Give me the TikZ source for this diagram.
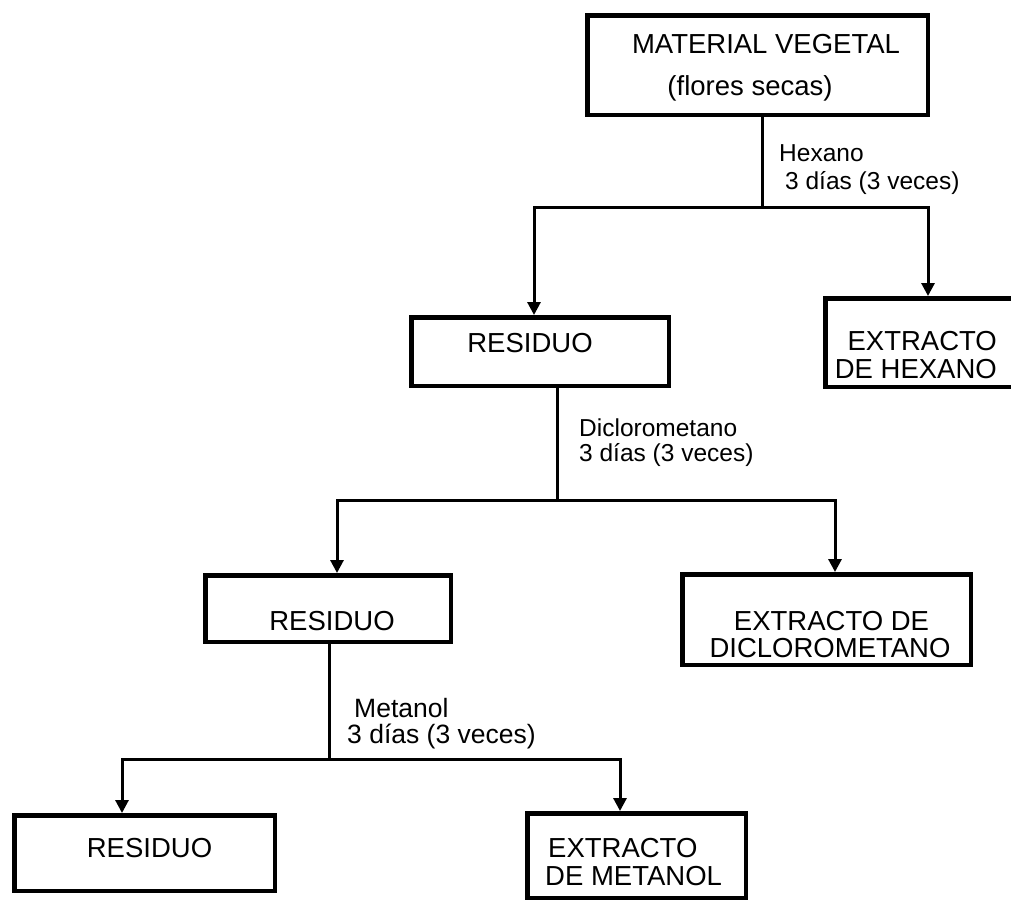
\documentclass[tikz,border=0pt]{standalone}
\usepackage{fontspec}
\setmainfont{Liberation Sans}
\usetikzlibrary{arrows.meta}
\tikzset{
  box/.style={draw, line width=4.5pt, inner sep=0pt},
  txt/.style={inner sep=0pt, anchor=base, font=\fontsize{27.5}{30}\selectfont},
  lab/.style={inner sep=0pt, anchor=base west, font=\fontsize{24.5}{27}\selectfont},
  conn/.style={line width=3pt, line join=miter},
  arr/.style={conn, -{Triangle[width=13pt,length=13pt]}}
}
\begin{document}
\begin{tikzpicture}[x=1pt,y=-1pt]
\useasboundingbox (0,0) rectangle (1011,903);
% boxes
\node[box, minimum width=340.5, minimum height=99.5] (mat) at (757.5,65) {};
\node[box, minimum width=257.5, minimum height=68.5] (res1) at (540,351.5) {};
\node[box, minimum width=205.5, minimum height=88.5] (exh) at (928,342.5) {};
\node[box, minimum width=245.5, minimum height=66.5] (res2) at (328,608.5) {};
\node[box, minimum width=288.5, minimum height=90.5] (exd) at (826.5,619.5) {};
\node[box, minimum width=260.5, minimum height=75.5] (res3) at (144.5,853) {};
\node[box, minimum width=218.5, minimum height=84.5] (exm) at (636.5,855.5) {};
% box texts
\node[txt] (matA) at (766,53) {MATERIAL VEGETAL};
\node[txt] (matB) at (750,95) {(flores secas)};
\node[txt] (res1t) at (530,352) {RESIDUO};
\node[txt, anchor=base east] (exhA) at (997,350) {EXTRACTO};
\node[txt, anchor=base east] (exhB) at (997,378) {DE HEXANO};
\node[txt] (res2t) at (332,630) {RESIDUO};
\node[txt] (exdA) at (831.5,630) {EXTRACTO DE};
\node[txt] (exdB) at (830,657) {DICLOROMETANO};
\node[txt] (res3t) at (149.5,857) {RESIDUO};
\node[txt, anchor=base west] (exmA) at (548,857) {EXTRACTO};
\node[txt, anchor=base west] (exmB) at (545,885) {DE METANOL};
% labels
\node[lab] (hexA) at (779,161) {Hexano};
\node[lab] (hexB) at (785,189) {3 días (3 veces)};
\node[lab] (dicA) at (579,436) {Diclorometano};
\node[lab] (dicB) at (579,461) {3 días (3 veces)};
\node[lab, font=\fontsize{26.5}{29}\selectfont] (metA) at (354,717) {Metanol};
\node[lab, font=\fontsize{26.5}{29}\selectfont] (metB) at (347,743) {3 días (3 veces)};
% junctions
\coordinate (j1) at (762,207);
\coordinate (j2) at (557,500);
\coordinate (j3) at (329,759);
% connectors
\draw[conn] (j1 |- mat.south) -- (j1);
\draw[arr] (j1) -| ([xshift=-6pt]res1.north);
\draw[arr] (j1) -| (exh.north);
\draw[conn] (j2 |- res1.south) -- (j2);
\draw[arr] (j2) -| ([xshift=9pt]res2.north);
\draw[arr] (j2) -| ([xshift=8.5pt]exd.north);
\draw[conn] (j3 |- res2.south) -- (j3);
\draw[arr] (j3) -| ([xshift=-22.5pt]res3.north);
\draw[arr] (j3) -| ([xshift=-16.5pt]exm.north);
\end{tikzpicture}
\end{document}
